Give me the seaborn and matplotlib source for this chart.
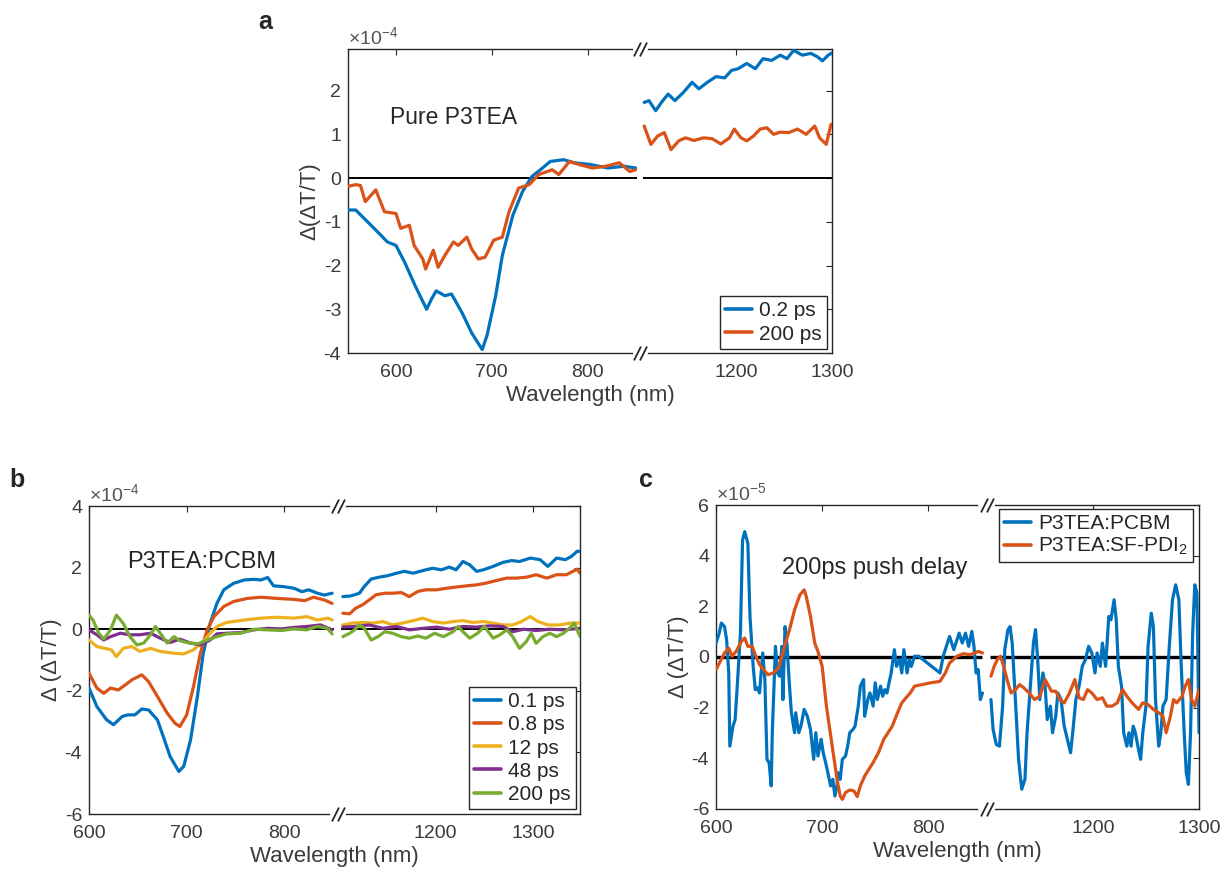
import numpy as np
import pandas as pd
import matplotlib
matplotlib.use("Agg")
import matplotlib.pyplot as plt
import seaborn as sns

sns.set_style("white")
plt.rcParams['font.family'] = ['Liberation Sans', 'DejaVu Sans']
plt.rcParams['mathtext.fontset'] = 'custom'
plt.rcParams['mathtext.rm'] = 'Liberation Sans'
plt.rcParams['mathtext.it'] = 'Liberation Sans:italic'

BREAK = 855   # position of the axis cut
SHIFT = 245   # 1100 nm is drawn right at the cut
GREY = '#262626'

# ---- panel a : pure P3TEA (x1e-4) ----
a_wl_02 = [550, 558, 574, 584, 591, 600, 609, 620, 632, 637, 642, 651, 658, 669, 679, 690,
           695, 704, 711, 722, 732, 742, 753, 761, 775, 786, 803, 821, 838, 850,
           1104, 1109, 1116, 1122, 1129, 1136, 1145, 1154, 1161, 1170, 1179, 1188, 1195,
           1202, 1211, 1220, 1228, 1237, 1246, 1253, 1260, 1269, 1278, 1285, 1290, 1296, 1300]
a_val_02 = [-0.73, -0.73, -1.08, -1.3, -1.46, -1.54, -1.92, -2.46, -3.0, -2.77, -2.58, -2.69,
            -2.65, -3.08, -3.54, -3.92, -3.6, -2.7, -1.77, -0.85, -0.31, 0.04, 0.23, 0.38,
            0.42, 0.35, 0.31, 0.23, 0.27, 0.23,
            1.73, 1.77, 1.54, 1.73, 1.92, 1.77, 1.96, 2.19, 2.04, 2.19, 2.32, 2.29, 2.46,
            2.5, 2.62, 2.5, 2.73, 2.69, 2.81, 2.73, 2.92, 2.81, 2.85, 2.77, 2.68, 2.81, 2.86]
a_wl_200 = [550, 558, 563, 568, 579, 588, 600, 605, 614, 619, 628, 631, 639, 644, 651, 660,
            665, 674, 679, 686, 693, 702, 711, 718, 728, 739, 749, 763, 770, 781, 791, 805,
            819, 833, 844, 850,
            1104, 1111, 1118, 1125, 1132, 1140, 1147, 1156, 1166, 1175, 1184, 1193, 1198,
            1205, 1211, 1218, 1225, 1232, 1239, 1246, 1255, 1264, 1273, 1282, 1287, 1294, 1299]
a_val_200 = [-0.19, -0.15, -0.17, -0.54, -0.27, -0.77, -0.81, -1.15, -1.08, -1.54, -1.85,
             -2.08, -1.65, -2.04, -1.77, -1.46, -1.54, -1.35, -1.62, -1.85, -1.81, -1.42,
             -1.35, -0.77, -0.23, -0.15, 0.08, 0.19, 0.08, 0.38, 0.31, 0.23, 0.27, 0.35,
             0.15, 0.19,
             1.19, 0.77, 0.96, 1.04, 0.65, 0.85, 0.92, 0.86, 0.92, 0.9, 0.78, 0.92, 1.12,
             0.92, 0.85, 0.96, 1.12, 1.15, 1.0, 1.05, 1.04, 1.12, 1.0, 1.19, 0.92, 0.77, 1.23]

# ---- panel b : P3TEA:PCBM (x1e-4) ----
b_wl_01 = [600, 608, 618, 625, 634, 640, 647, 654, 661, 670, 676, 683, 692, 697, 704, 711,
           717, 724, 731, 738, 748, 759, 769, 776, 783, 789, 800, 810, 818, 825, 834, 841, 849,
           1105, 1113, 1122, 1127, 1134, 1142, 1151, 1160, 1168, 1177, 1184, 1190, 1197, 1206,
           1214, 1221, 1228, 1235, 1242, 1249, 1259, 1269, 1278, 1286, 1297, 1307, 1315, 1324,
           1333, 1339, 1345, 1348]
b_val_01 = [-1.91, -2.51, -2.94, -3.1, -2.83, -2.78, -2.78, -2.59, -2.62, -2.94, -3.48, -4.13,
            -4.62, -4.45, -3.59, -2.18, -0.78, 0.19, 0.84, 1.28, 1.49, 1.6, 1.62, 1.6, 1.68,
            1.41, 1.38, 1.33, 1.22, 1.28, 1.17, 1.11, 1.17,
            1.06, 1.08, 1.17, 1.39, 1.63, 1.69, 1.74, 1.82, 1.88, 1.82, 1.88, 1.93, 1.98, 1.93,
            2.02, 1.93, 2.2, 2.09, 1.88, 1.93, 2.04, 2.17, 2.23, 2.2, 2.31, 2.26, 2.04, 2.31,
            2.26, 2.36, 2.53, 2.53]
b_wl_08 = [600, 608, 615, 622, 630, 637, 644, 654, 661, 670, 680, 688, 693, 700, 707, 714,
           721, 728, 738, 748, 762, 776, 793, 810, 821, 830, 841, 849,
           1105, 1112, 1118, 1125, 1132, 1139, 1148, 1156, 1165, 1173, 1182, 1190, 1201, 1211,
           1221, 1232, 1242, 1252, 1262, 1273, 1283, 1293, 1303, 1314, 1324, 1334, 1345, 1348]
b_val_08 = [-1.43, -1.91, -2.08, -1.91, -1.97, -1.81, -1.64, -1.48, -1.7, -2.18, -2.72, -3.05,
            -3.16, -2.78, -1.86, -0.78, -0.02, 0.41, 0.74, 0.9, 1.0, 1.04, 1.0, 0.97, 0.93,
            1.04, 0.95, 0.84,
            0.52, 0.5, 0.68, 0.79, 0.95, 1.12, 1.17, 1.17, 1.19, 1.06, 1.23, 1.28, 1.28, 1.33,
            1.37, 1.41, 1.44, 1.5, 1.58, 1.66, 1.66, 1.69, 1.77, 1.66, 1.77, 1.77, 1.95, 1.82]
b_wl_12 = [600, 608, 616, 623, 628, 635, 644, 652, 663, 673, 687, 697, 707, 717, 724, 731,
           741, 759, 776, 793, 810, 823, 834, 845, 849,
           1105, 1115, 1125, 1136, 1146, 1156, 1166, 1177, 1187, 1197, 1208, 1218, 1228, 1238,
           1249, 1259, 1269, 1279, 1288, 1297, 1305, 1315, 1327, 1338, 1348]
b_val_12 = [-0.35, -0.56, -0.62, -0.67, -0.89, -0.62, -0.56, -0.72, -0.62, -0.72, -0.78, -0.8,
            -0.67, -0.4, -0.13, 0.09, 0.22, 0.3, 0.36, 0.39, 0.36, 0.41, 0.3, 0.36, 0.3,
            0.14, 0.2, 0.22, 0.2, 0.25, 0.14, 0.2, 0.28, 0.36, 0.25, 0.2, 0.25, 0.28, 0.22,
            0.25, 0.2, 0.14, 0.14, 0.25, 0.41, 0.25, 0.14, 0.14, 0.2, 0.2]
b_wl_48 = [600, 608, 615, 622, 632, 642, 652, 663, 673, 683, 693, 704, 714, 724, 731, 741,
           755, 769, 783, 797, 810, 823, 837, 849,
           1105, 1118, 1132, 1146, 1160, 1173, 1187, 1201, 1214, 1228, 1242, 1255, 1269, 1279,
           1290, 1303, 1317, 1331, 1348]
b_val_48 = [-0.02, -0.18, -0.35, -0.24, -0.13, -0.18, -0.18, -0.13, -0.29, -0.43, -0.32, -0.45,
            -0.51, -0.35, -0.15, -0.13, -0.11, -0.02, 0.03, 0.01, 0.06, 0.09, 0.14, -0.02,
            0.07, 0.09, 0.14, 0.03, 0.09, -0.02, 0.03, 0.07, 0.0, 0.09, 0.07, 0.11, 0.09, -0.08,
            0.0, -0.04, 0.0, -0.02, 0.03]
b_wl_200 = [600, 604, 610, 615, 622, 628, 635, 642, 649, 656, 663, 668, 673, 680, 687, 693,
            700, 711, 721, 731, 741, 755, 769, 783, 797, 810, 823, 834, 844, 849,
            1105, 1112, 1117, 1122, 1127, 1134, 1141, 1148, 1156, 1165, 1173, 1182, 1190, 1199,
            1208, 1218, 1223, 1228, 1235, 1243, 1250, 1259, 1266, 1273, 1279, 1286, 1293, 1298,
            1303, 1310, 1317, 1324, 1331, 1337, 1342, 1348]
b_val_200 = [0.46, 0.3, -0.13, -0.32, -0.02, 0.46, 0.19, -0.24, -0.51, -0.45, -0.18, 0.09,
             -0.13, -0.45, -0.24, -0.37, -0.43, -0.48, -0.35, -0.24, -0.15, -0.13, 0.0, -0.02,
             -0.04, 0.01, -0.02, 0.09, 0.03, -0.15,
             -0.24, -0.13, -0.02, 0.14, 0.03, -0.35, -0.24, -0.08, -0.13, -0.24, -0.29, -0.22,
             -0.29, -0.13, -0.24, -0.08, 0.09, -0.08, -0.29, -0.13, 0.09, -0.29, -0.18, -0.02,
             -0.24, -0.62, -0.4, -0.13, -0.46, -0.24, -0.13, -0.24, -0.13, 0.03, 0.2, -0.24]

# ---- panel c : 200 ps push delay (x1e-5) ----
c_wl_pcbm = [600, 603, 605, 608, 610, 612, 613, 616, 618, 620, 623, 625, 627, 630, 632, 635,
             637, 639, 641, 644, 646, 648, 650, 652, 653, 656, 658, 660, 662, 663, 665, 667,
             669, 671, 674, 675, 678, 680, 683, 686, 689, 692, 694, 696, 699, 701, 704, 706,
             708, 710, 712, 714, 715, 717, 719, 722, 724, 726, 729, 731, 734, 736, 739, 740,
             743, 745, 748, 750, 752, 755, 757, 759, 761, 765, 768, 770, 773, 775, 777, 780,
             782, 784, 787, 791, 811, 814, 817, 820, 824, 827, 829, 832, 835, 838, 841, 843,
             845, 847, 849, 851,
             1104, 1106, 1109, 1112, 1115, 1117, 1120, 1122, 1124, 1127, 1130, 1133, 1136, 1138,
             1142, 1144, 1146, 1148, 1150, 1153, 1155, 1157, 1160, 1162, 1165, 1167, 1170, 1173,
             1176, 1179, 1181, 1184, 1187, 1190, 1193, 1196, 1199, 1202, 1204, 1207, 1209, 1212,
             1215, 1217, 1220, 1222, 1224, 1227, 1229, 1232, 1234, 1236, 1238, 1240, 1243, 1245,
             1247, 1250, 1252, 1255, 1257, 1259, 1262, 1264, 1266, 1269, 1272, 1275, 1278, 1281,
             1283, 1286, 1288, 1290, 1292, 1294, 1296, 1298, 1300]
c_val_pcbm = [0.55, 0.94, 1.34, 1.2, 0.68, -0.63, -3.52, -2.73, -2.47, -1.15, 0.94, 4.62, 4.95,
              4.49, 1.6, -0.37, -1.29, -1.22, -1.42, 0.16, -0.89, -4.04, -4.17, -5.09, -2.99,
              0.42, -0.63, -0.76, 0.42, -1.68, 1.2, 0.42, -1.02, -2.2, -2.99, -2.2, -2.99,
              -2.73, -2.07, -2.34, -2.86, -4.04, -2.99, -3.91, -3.25, -3.78, -4.3, -4.7, -5.09,
              -4.83, -5.49, -5.09, -4.57, -4.83, -4.04, -3.91, -3.52, -2.99, -2.86, -2.73,
              -1.94, -1.15, -0.89, -2.34, -1.68, -1.42, -1.94, -1.02, -1.68, -1.15, -1.55,
              -1.29, -1.42, -0.63, 0.29, -0.37, -0.1, -0.63, 0.29, -0.63, -0.1, -0.37, 0.03,
              0.03, -0.63, 0.03, 0.42, 0.81, 0.29, 0.68, 0.94, 0.55, 0.94, 0.42, 1.01, 0.42,
              -0.63, -0.5, -1.68, -1.42,
              -1.68, -2.86, -3.45, -3.52, -1.94, 0.29, 1.08, 1.2, 0.55, -1.68, -4.04, -5.22,
              -4.83, -2.99, -0.63, 0.55, 1.08, -0.1, -1.68, -0.63, -1.15, -2.47, -1.94, -2.99,
              -2.34, -1.42, -1.68, -2.73, -3.25, -3.78, -2.99, -1.68, -1.15, -0.37, -0.1, 0.42,
              0.16, -0.63, 0.16, -0.37, 0.55, -0.37, 1.6, 1.47, 2.26, 1.47, -0.37, -1.15, -2.99,
              -3.52, -2.99, -3.52, -2.73, -2.99, -3.65, -4.04, -2.99, -1.94, 0.42, 1.73, 1.2,
              -1.68, -3.52, -2.99, -1.94, -1.68, 0.42, 2.26, 2.85, 2.26, -0.1, -2.99, -4.57,
              -5.03, -2.99, 0.94, 2.85, 2.52, -2.99]
c_wl_pdi = [600, 604, 608, 612, 615, 619, 624, 627, 630, 634, 637, 641, 646, 649, 654, 659,
            662, 666, 670, 674, 679, 683, 685, 689, 693, 696, 700, 704, 709, 714, 717, 719,
            722, 726, 730, 733, 736, 740, 743, 748, 753, 758, 761, 766, 771, 775, 779, 783,
            787, 794, 802, 811, 816, 820, 827, 833, 839, 844, 847, 851,
            1104, 1107, 1110, 1113, 1116, 1120, 1123, 1127, 1131, 1135, 1140, 1145, 1150, 1155,
            1161, 1165, 1169, 1173, 1178, 1183, 1187, 1191, 1195, 1199, 1204, 1209, 1213, 1218,
            1223, 1228, 1232, 1237, 1243, 1247, 1252, 1257, 1262, 1266, 1269, 1273, 1276, 1279,
            1284, 1287, 1290, 1293, 1296, 1300]
c_val_pdi = [-0.5, -0.17, 0.16, 0.35, 0.03, 0.22, 0.62, 0.75, 0.42, 0.42, 0.09, -0.3, -0.56,
             -0.7, -0.63, -0.43, 0.03, 0.62, 1.2, 1.86, 2.45, 2.65, 2.39, 1.6, 0.55, 0.22, -0.37,
             -1.94, -3.39, -4.83, -5.49, -5.62, -5.35, -5.25, -5.29, -5.51, -5.09, -4.7, -4.5,
             -4.17, -3.78, -3.25, -3.06, -2.73, -2.2, -1.81, -1.61, -1.42, -1.15, -1.09, -1.02,
             -0.96, -0.63, -0.24, 0.03, 0.13, 0.09, 0.16, 0.22, 0.16,
             -0.76, -0.37, -0.1, 0.03, -0.37, -1.02, -1.42, -1.29, -1.09, -1.22, -1.42, -1.68,
             -1.55, -0.89, -1.35, -1.35, -1.68, -1.81, -1.42, -0.89, -1.61, -1.68, -1.29, -1.42,
             -1.68, -1.61, -1.94, -1.94, -1.81, -1.29, -1.55, -1.81, -2.07, -1.81, -1.88, -2.07,
             -2.2, -2.34, -2.99, -2.34, -1.68, -1.81, -1.55, -1.15, -0.89, -1.68, -1.94, -1.29]

MATLAB = ['#0072BD', '#D95319', '#EDB120', '#7E2F8E', '#77AC30']


def spectrum(wl, val, name):
    wl = np.asarray(wl, float)
    right = wl > 1000
    return pd.DataFrame({'x': np.where(right, wl - SHIFT, wl), 'y': val,
                         'delay': name, 'seg': right.astype(int)})


def style_axis(ax, xlim, ylim, yticks, exp, ylabel):
    ax.set_xlim(*xlim)
    ax.set_ylim(*ylim)
    ax.set_yticks(yticks)
    ax.set_yticklabels([f'{t:g}' for t in yticks])
    ax.set_xticks([600, 700, 800, 1200 - SHIFT, 1300 - SHIFT])
    ax.set_xticklabels(['600', '700', '800', '1200', '1300'])
    ax.tick_params(direction='in', length=4, width=0.8, color=GREY, labelcolor='#3a3a3a',
                   labelsize=14, top=True, right=True)
    ax.tick_params(axis='x', pad=8)
    ax.tick_params(axis='y', pad=5)
    for s in ax.spines.values():
        s.set_color(GREY)
        s.set_linewidth(1.0)
    ax.set_xlabel('Wavelength (nm)', fontsize=16, color='#3a3a3a', labelpad=3)
    ax.set_ylabel(ylabel, fontsize=16, color='#3a3a3a', labelpad=2)
    ax.text(0.0, 1.004, r'$\times10^{' + exp + '}$', transform=ax.transAxes, ha='left',
            va='bottom', fontsize=14, color='#555555')
    # broken axis marks
    tr = ax.get_xaxis_transform()
    for yb in (0, 1):
        ax.plot([BREAK - 6, BREAK + 6], [yb, yb], color='white', lw=3, transform=tr,
                clip_on=False, zorder=5)
        ax.plot([BREAK - 3, BREAK + 3], [yb, yb], ls='none', marker=[(-0.5, -1), (0.5, 1)],
                ms=10, mec=GREY, mew=1.3, transform=tr, clip_on=False, zorder=6)


def zero_line(ax, xlim, lw):
    ax.hlines(0, xlim[0], BREAK - 4, color='black', lw=lw, zorder=1)
    ax.hlines(0, BREAK + 3, xlim[1], color='black', lw=lw, zorder=1)


def draw(ax, df, order, palette):
    sns.lineplot(data=df, x='x', y='y', hue='delay', hue_order=order, units='seg',
                 estimator=None, sort=False, palette=palette, lw=2.3, ax=ax, zorder=3)


def legend(ax, loc, anchor, spacing):
    sns.move_legend(ax, loc, bbox_to_anchor=anchor, title=None, frameon=True, fancybox=False,
                    fontsize=15, borderaxespad=0, handlelength=1.3, handletextpad=0.35,
                    labelspacing=spacing, borderpad=0.25, framealpha=1)
    leg = ax.get_legend()
    leg.get_frame().set_edgecolor(GREY)
    leg.get_frame().set_linewidth(1.0)
    for line in leg.get_lines():
        line.set_linewidth(2.6)


fig = plt.figure(figsize=(12.25, 8.71), dpi=100)
ax_a = fig.add_axes([0.2841, 0.5947, 0.3951, 0.3490])
ax_b = fig.add_axes([0.0727, 0.0654, 0.4008, 0.3536])
ax_c = fig.add_axes([0.5845, 0.0712, 0.3943, 0.3490])

# panel a
xa = (550, 1300 - SHIFT)
df_a = pd.concat([spectrum(a_wl_02, a_val_02, '0.2 ps'),
                  spectrum(a_wl_200, a_val_200, '200 ps')])
zero_line(ax_a, xa, 1.4)
draw(ax_a, df_a, ['0.2 ps', '200 ps'], MATLAB[:2])
style_axis(ax_a, xa, (-4, 2.95), [-4, -3, -2, -1, 0, 1, 2], '-4', 'Δ(ΔT/T)')
ax_a.text(594, 1.38, 'Pure P3TEA', fontsize=16.5, va='center', ha='left')
legend(ax_a, 'lower right', (0.99, 0.014), 0.2)

# panel b
xb = (600, 1348 - SHIFT)
b_names = ['0.1 ps', '0.8 ps', '12 ps', '48 ps', '200 ps']
df_b = pd.concat([spectrum(w, v, n) for w, v, n in zip(
    [b_wl_01, b_wl_08, b_wl_12, b_wl_48, b_wl_200],
    [b_val_01, b_val_08, b_val_12, b_val_48, b_val_200], b_names)])
zero_line(ax_b, xb, 1.4)
draw(ax_b, df_b, b_names, MATLAB)
style_axis(ax_b, xb, (-6, 4), [-6, -4, -2, 0, 2, 4], '-4', 'Δ (ΔT/T)')
ax_b.text(639, 2.18, 'P3TEA:PCBM', fontsize=17, va='center', ha='left')
legend(ax_b, 'lower right', (0.992, 0.016), 0.2)

# panel c
xc = (600, 1300 - SHIFT)
c_names = ['P3TEA:PCBM', 'P3TEA:SF-PDI$_2$']
df_c = pd.concat([spectrum(c_wl_pcbm, c_val_pcbm, c_names[0]),
                  spectrum(c_wl_pdi, c_val_pdi, c_names[1])])
zero_line(ax_c, xc, 2.4)
draw(ax_c, df_c, c_names, MATLAB[:2])
style_axis(ax_c, xc, (-6, 6), [-6, -4, -2, 0, 2, 4, 6], '-5', 'Δ (ΔT/T)')
ax_c.text(662, 3.5, '200ps push delay', fontsize=17, va='center', ha='left')
legend(ax_c, 'upper right', (0.988, 0.988), 0.15)

for letter, x, y in [('a', 0.211, 0.975), ('b', 0.008, 0.449), ('c', 0.522, 0.449)]:
    fig.text(x, y, letter, fontsize=18, fontweight='bold', ha='left', va='center')

fig.savefig('out.png', dpi=100)
